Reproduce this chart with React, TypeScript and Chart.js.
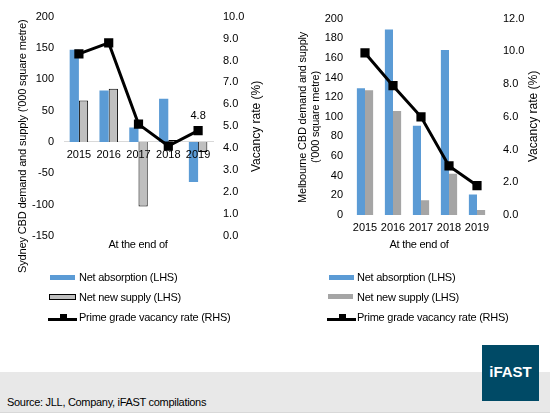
import React, { useEffect, useRef } from 'react';
import { Chart, registerables } from 'chart.js';

Chart.register(...registerables);

// ---------- data ----------
const years = ['2015', '2016', '2017', '2018', '2019'];

const sydneyAbsorption = [147, 82, 23, 69, -64];
const sydneySupply = [66, 85, -103, 3, -16];
const sydneyVacancy = [8.3, 8.8, 5.1, 4.1, 4.8];

const melbourneAbsorption = [129, 189, 91, 168, 21];
const melbourneSupply = [127, 106, 15, 42, 5];
const melbourneVacancy = [9.9, 7.9, 6.0, 3.0, 1.8];

const sydneyLeftRange = [-150, 200, 50];
const sydneyRightRange = [0, 10, 1];
const melbourneLeftRange = [0, 200, 20];
const melbourneRightRange = [0, 12, 2];

const legendLabels = ['Net absorption (LHS)', 'Net new supply (LHS)', 'Prime grade vacancy rate (RHS)'];

// ---------- styles ----------
const FONT = "'Liberation Sans', Arial, sans-serif";
const BLUE = '#5B9BD5';
const GREY_SYD = '#BFBFBF';
const GREY_MEL = '#A5A5A5';

const lastLabelPlugin = {
  id: 'lastLabel',
  afterDatasetsDraw(chart: any) {
    if (!chart.options.plugins.lastLabel || !chart.options.plugins.lastLabel.show) return;
    const meta = chart.getDatasetMeta(0);
    const i = meta.data.length - 1;
    const pt = meta.data[i];
    const v = chart.data.datasets[0].data[i];
    const ctx = chart.ctx;
    ctx.save();
    ctx.font = `11px ${FONT}`;
    ctx.fillStyle = '#000';
    ctx.textAlign = 'center';
    ctx.textBaseline = 'middle';
    ctx.fillText(Number(v).toFixed(1), pt.x, pt.y - 15);
    ctx.restore();
  },
};

type Cfg = {
  absorption: number[];
  supply: number[];
  vacancy: number[];
  left: number[];
  right: number[];
  supplyColor: string;
  supplyBorder: boolean;
  pad: { top: number; bottom: number };
  leftW: number;
  rightW: number;
  leftPad: number;
  rightPad: number;
  catPct: number;
  zeroLine: boolean;
  label: boolean;
};

function makeConfig(c: Cfg): any {
  const tickFont = { family: FONT, size: 11 };
  return {
    type: 'bar',
    data: {
      labels: years,
      datasets: [
        {
          type: 'line',
          label: legendLabels[2],
          data: c.vacancy,
          yAxisID: 'y1',
          borderColor: '#000',
          backgroundColor: '#000',
          borderWidth: 3,
          pointStyle: 'rect',
          pointRadius: 6.5,
          pointBackgroundColor: '#000',
          pointBorderColor: '#000',
          pointBorderWidth: 0,
          tension: 0,
          order: 0,
        },
        {
          label: legendLabels[0],
          data: c.absorption,
          yAxisID: 'y',
          backgroundColor: BLUE,
          borderWidth: 0,
          categoryPercentage: c.catPct,
          barPercentage: 1,
          order: 1,
        },
        {
          label: legendLabels[1],
          data: c.supply,
          yAxisID: 'y',
          backgroundColor: c.supplyColor,
          borderColor: '#000',
          borderWidth: c.supplyBorder ? 1 : 0,
          categoryPercentage: c.catPct,
          barPercentage: 1,
          order: 1,
        },
      ],
    },
    options: {
      responsive: false,
      animation: false,
      maintainAspectRatio: false,
      layout: { padding: { top: c.pad.top, bottom: c.pad.bottom, left: 0, right: 0 } },
      plugins: {
        legend: { display: false },
        tooltip: { enabled: false },
        lastLabel: { show: c.label },
      },
      scales: {
        x: {
          type: 'category',
          position: { y: 0 },
          offset: true,
          grid: { display: false, drawTicks: false },
          border: { display: c.zeroLine, color: '#D9D9D9', width: 1 },
          ticks: { font: tickFont, color: '#000', padding: 6, maxRotation: 0, autoSkip: false, z: 1 },
          afterFit: (s: any) => { s.height = 0; },
        },
        y: {
          position: 'left',
          min: c.left[0],
          max: c.left[1],
          grid: { display: false, drawTicks: false },
          border: { display: false },
          ticks: { stepSize: c.left[2], font: tickFont, color: '#000', padding: c.leftPad },
          afterFit: (s: any) => { s.width = c.leftW; },
        },
        y1: {
          position: 'right',
          min: c.right[0],
          max: c.right[1],
          grid: { display: false, drawTicks: false },
          border: { display: false },
          ticks: {
            stepSize: c.right[2],
            font: tickFont,
            color: '#000',
            padding: c.rightPad,
            callback: (v: any) => Number(v).toFixed(1),
          },
          afterFit: (s: any) => { s.width = c.rightW; },
        },
      },
    },
    plugins: [lastLabelPlugin],
  };
}

function ChartCanvas({ cfg, left }: { cfg: Cfg; left: number }) {
  const ref = useRef<HTMLCanvasElement | null>(null);
  useEffect(() => {
    if (!ref.current) return;
    const chart = new Chart(ref.current, makeConfig(cfg));
    return () => chart.destroy();
  }, []);
  return (
    <canvas
      ref={ref}
      width={275}
      height={260}
      style={{ position: 'absolute', left, top: 0, width: 275, height: 260 }}
    />
  );
}

const txt: React.CSSProperties = {
  position: 'absolute',
  fontFamily: FONT,
  fontSize: 11,
  color: '#000',
  whiteSpace: 'nowrap',
  letterSpacing: '-0.2px',
};

// vertical (bottom-to-top) text block centred on (x, y); w = thickness, h = length
function VText({ x, y, size, spacing, w, h, children }: any) {
  return (
    <div
      style={{
        ...txt,
        fontSize: size,
        letterSpacing: spacing,
        left: x - w / 2,
        top: y - h / 2,
        width: w,
        height: h,
        lineHeight: '13px',
        textAlign: 'center',
        writingMode: 'vertical-rl',
        transform: 'rotate(180deg)',
        transformOrigin: '50% 50%',
      }}
    >
      {children}
    </div>
  );
}

function Legend({ x, textX, supplyColor, supplyBorder }: any) {
  const rows = [277, 297, 317];
  return (
    <>
      <div style={{ position: 'absolute', left: x, top: 275, width: 25, height: 5, background: BLUE }} />
      <div
        style={{
          position: 'absolute',
          left: x - 1,
          top: 294,
          width: 25,
          height: supplyBorder ? 4 : 5,
          background: supplyColor,
          border: supplyBorder ? '1px solid #000' : 'none',
        }}
      />
      <div style={{ position: 'absolute', left: x - 2, top: 318, width: 29, height: 3, background: '#000' }} />
      <div style={{ position: 'absolute', left: x + 10, top: 314, width: 7, height: 5, background: '#000' }} />
      {legendLabels.map((l, i) => (
        <div key={l} style={{ ...txt, left: textX, top: rows[i] - 10, lineHeight: '20px', letterSpacing: '-0.25px' }}>
          {l}
        </div>
      ))}
    </>
  );
}

export default function App() {
  const sydney: Cfg = {
    absorption: sydneyAbsorption,
    supply: sydneySupply,
    vacancy: sydneyVacancy,
    left: sydneyLeftRange,
    right: sydneyRightRange,
    supplyColor: GREY_SYD,
    supplyBorder: true,
    pad: { top: 15, bottom: 24 },
    leftW: 64,
    rightW: 62,
    leftPad: 10,
    rightPad: 10,
    catPct: 0.62,
    zeroLine: true,
    label: true,
  };
  const melbourne: Cfg = {
    absorption: melbourneAbsorption,
    supply: melbourneSupply,
    vacancy: melbourneVacancy,
    left: melbourneLeftRange,
    right: melbourneRightRange,
    supplyColor: GREY_MEL,
    supplyBorder: false,
    pad: { top: 15, bottom: 45 },
    leftW: 76,
    rightW: 59,
    leftPad: 8,
    rightPad: 12,
    catPct: 0.58,
    zeroLine: false,
    label: false,
  };
  return (
    <div
      style={{
        position: 'fixed',
        left: 0,
        top: 0,
        width: 550,
        height: 413,
        background: '#fff',
        overflow: 'hidden',
      }}
    >
      <ChartCanvas cfg={sydney} left={0} />
      <ChartCanvas cfg={melbourne} left={275} />

      {/* Sydney axis titles */}
      <VText x={22} y={146} w={13} h={280} size={11} spacing="-0.15px">
        Sydney CBD demand and supply ('000 square metre)
      </VText>
      <VText x={256} y={126} w={13} h={110} size={12} spacing="0px">
        Vacancy rate (%)
      </VText>
      <div style={{ ...txt, left: 138, top: 244, transform: 'translate(-50%, -50%)', letterSpacing: '-0.25px' }}>
        At the end of
      </div>

      {/* Melbourne axis titles */}
      <VText x={308.5} y={117} w={26} h={200} size={11} spacing="-0.2px">
        Melbourne CBD demand and supply
        <br />
        ('000 square metre)
      </VText>
      <VText x={533.5} y={116} w={13} h={110} size={12} spacing="0px">
        Vacancy rate (%)
      </VText>
      <div style={{ ...txt, left: 419, top: 244, transform: 'translate(-50%, -50%)', letterSpacing: '-0.25px' }}>
        At the end of
      </div>

      <Legend x={50} textX={79} supplyColor={GREY_SYD} supplyBorder={true} />
      <Legend x={329} textX={357} supplyColor={GREY_MEL} supplyBorder={false} />

      {/* footer band */}
      <div
        style={{
          position: 'absolute',
          left: 0,
          top: 372,
          width: 550,
          height: 40,
          background: '#E8E8E8',
          borderBottom: '1px solid #D8D8D8',
        }}
      />
      <div style={{ ...txt, left: 7, top: 401.5, transform: 'translateY(-50%)', letterSpacing: '-0.3px' }}>
        Source: JLL, Company, iFAST compilations
      </div>
      <div
        style={{
          position: 'absolute',
          left: 482,
          top: 345,
          width: 57,
          height: 56,
          background: '#004A66',
        }}
      >
        <div
          style={{
            position: 'absolute',
            left: 0,
            width: 57,
            top: 26.5,
            transform: 'translateY(-50%)',
            textAlign: 'center',
            color: '#fff',
            fontFamily: FONT,
            fontWeight: 'bold',
            fontSize: 15,
            lineHeight: '18px',
          }}
        >
          iFAST
        </div>
      </div>
    </div>
  );
}
